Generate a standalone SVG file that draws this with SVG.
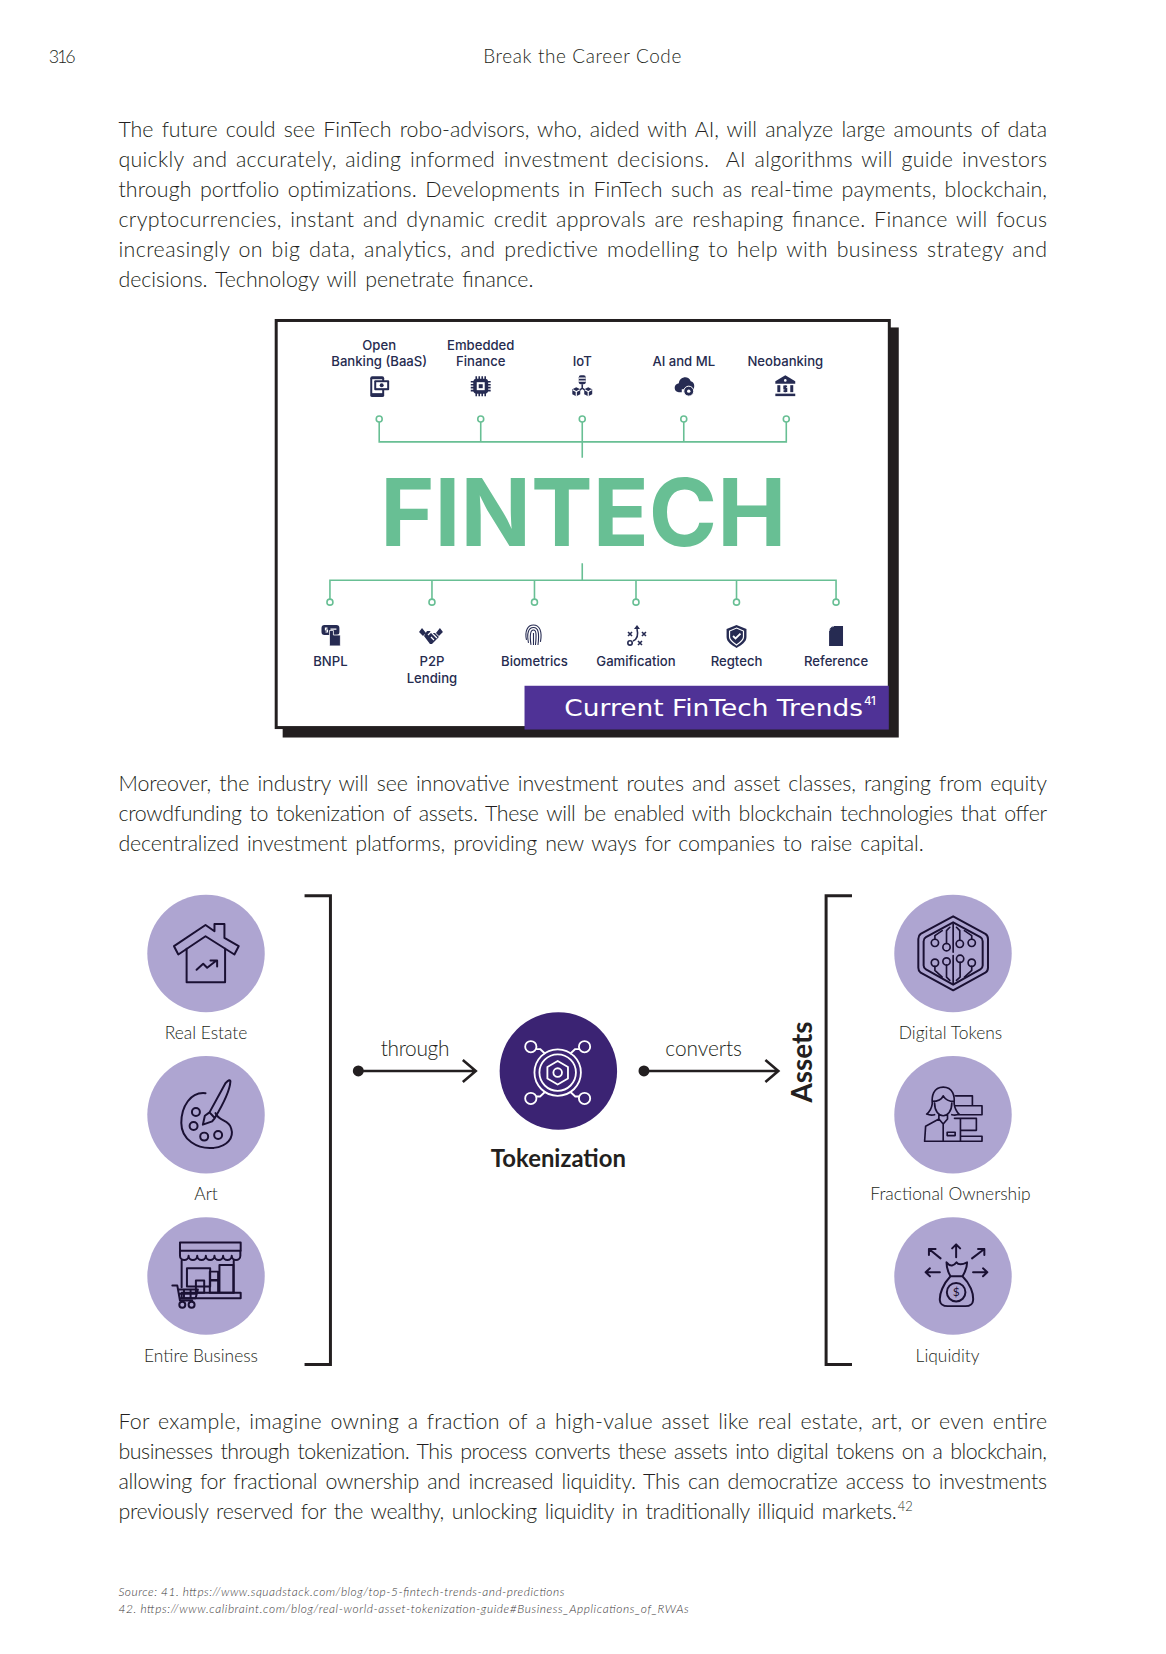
<svg xmlns="http://www.w3.org/2000/svg" width="1166" height="1654" viewBox="0 0 1166 1654">
<defs>
<style>
text{font-family:"Lato","Noto Sans",sans-serif;fill:#231f20}
.b{font-size:21.5px;font-weight:300;word-spacing:2.5px;fill:#231f20}
.l{font-size:17.5px;font-weight:300;text-anchor:middle}
.f{font-family:"Inter","Liberation Sans",sans-serif;font-size:13.2px;font-weight:500;fill:#262b4f;text-anchor:middle}
.fn{font-size:12px;font-style:italic;font-weight:300;fill:#3a3738}
.g{stroke:#68bf94;stroke-width:1.6;fill:none}
.gc{stroke:#68bf94;stroke-width:1.6;fill:#fff}
.ic{fill:none;stroke:#1a1033;stroke-width:6;stroke-linejoin:round;stroke-linecap:round}
.tok{fill:none;stroke:#fff;stroke-width:5.5;stroke-linejoin:round}
.d{fill:#262b52}
.ds{fill:none;stroke:#262b52;stroke-width:1.6}
.w{fill:none;stroke:#fff;stroke-width:1.2}
.c{fill:#aea5d1}
.a{fill:none;stroke:#231f20;stroke-width:2.6}
.br{fill:none;stroke:#231f20;stroke-width:3}
</style>
</defs>
<rect width="1166" height="1654" fill="#fff"/>
<g transform="scale(.9953)">
<g id="header">
<text x="49" y="63" font-size="18" font-weight="300" textLength="27">316</text>
<text x="585" y="63" font-size="19" font-weight="300" text-anchor="middle" textLength="199">Break the Career Code</text>
</g>
<g id="para1">
<text class="b" x="119" y="138" textLength="933">The future could see FinTech robo-advisors, who, aided with AI, will analyze large amounts of data</text>
<text class="b" x="119" y="168" textLength="933" xml:space="preserve">quickly and accurately, aiding informed investment decisions.  AI algorithms will guide investors</text>
<text class="b" x="119" y="198" textLength="933">through portfolio optimizations. Developments in FinTech such as real-time payments, blockchain,</text>
<text class="b" x="119" y="228" textLength="933">cryptocurrencies, instant and dynamic credit approvals are reshaping finance. Finance will focus</text>
<text class="b" x="119" y="258" textLength="933">increasingly on big data, analytics, and predictive modelling to help with business strategy and</text>
<text class="b" x="119" y="288" textLength="417">decisions. Technology will penetrate finance.</text>
</g>
<g id="fintech-figure">
<rect x="284" y="329" width="619" height="412" fill="#231f20"/>
<rect x="277.5" y="322" width="616" height="409" fill="#fff" stroke="#231f20" stroke-width="3"/>
<rect x="527" y="689" width="366" height="44" fill="#4f3296"/>
<text x="567" y="719" font-size="22.5" textLength="300" lengthAdjust="spacingAndGlyphs" style="font-family:'DejaVu Sans',sans-serif;fill:#fff">Current FinTech Trends</text>
<text x="868" y="708" style="font-family:'Inter',sans-serif;fill:#fff" font-size="11.5" font-weight="500">41</text>
<text x="382" y="548.500" style="font-family:'Inter','Liberation Sans',sans-serif;fill:#68bf94" font-size="94" font-weight="700" textLength="408" lengthAdjust="spacingAndGlyphs">FINTECH</text>
<g id="fintech-connectors">
<path class="g" d="M381 424V444H790V424M483 424V444M585 424V460M687 424V444"/>
<circle class="gc" cx="381" cy="421" r="3"/><circle class="gc" cx="483" cy="421" r="3"/><circle class="gc" cx="585" cy="421" r="3"/><circle class="gc" cx="687" cy="421" r="3"/><circle class="gc" cx="790" cy="421" r="3"/>
<path class="g" d="M585 566V583M331.500 602V583H840V602M434 583V602M537 583V602M639 583V602M740 583V602"/>
<circle class="gc" cx="331.500" cy="605" r="3"/><circle class="gc" cx="434" cy="605" r="3"/><circle class="gc" cx="537" cy="605" r="3"/><circle class="gc" cx="639" cy="605" r="3"/><circle class="gc" cx="740" cy="605" r="3"/><circle class="gc" cx="840" cy="605" r="3"/>
</g>
<g id="openbanking"><text class="f" x="381" y="352">Open</text><text class="f" x="381" y="368">Banking (BaaS)</text>
<g transform="translate(371,378)"><rect class="d" x="1" y="0" width="14" height="21" rx="2"/><rect x="3" y="3" width="10" height="14" fill="#fff"/><rect class="d" x="5" y="4" width="15" height="10" rx="1"/><rect x="7" y="6" width="11" height="6" fill="#fff"/><circle class="d" cx="12.500" cy="9" r="2"/></g></g>
<g id="embedded"><text class="f" x="483" y="352">Embedded</text><text class="f" x="483" y="368">Finance</text>
<g transform="translate(473,378)"><path class="ds" d="M5.500 0V20M8.500 0V20M11.500 0V20M14.500 0V20M0 5.500H20M0 8.500H20M0 11.500H20M0 14.500H20"/><rect class="d" x="2.500" y="2.500" width="15" height="15" rx="3.500"/><rect x="6" y="6" width="8" height="8" fill="#fff"/><rect class="d" x="8" y="8" width="4" height="4"/></g></g>
<g id="iot"><text class="f" x="585" y="368">IoT</text>
<g transform="translate(575,377)"><rect class="d" x="6.500" y="0" width="7" height="9" rx="2"/><path class="w" d="M6.500 3H13.500M6.500 6H13.500"/><path class="ds" d="M10 9V13M6 16L10 13L14 16"/><path class="d" d="M4 12L8 14V19L4 21L0 19V14Z"/><path class="d" d="M16 12L20 14V19L16 21L12 19V14Z"/><path class="w" d="M0.500 14.500L4 16.500L7.500 14.500M4 16.500V21M12.500 14.500L16 16.500L19.500 14.500M16 16.500V21"/></g></g>
<g id="aiml"><text class="f" x="687" y="368">AI and ML</text>
<g transform="translate(677,377)"><path class="d" d="M5 17C0 17 -1 9 5 8C6 1 15 0 17 6C21 7 21 11 20 14H8V17Z"/><circle class="d" cx="15" cy="16" r="5" stroke="#fff"/><circle cx="15" cy="16" r="1.700" fill="#fff"/></g></g>
<g id="neobanking"><text class="f" x="789" y="368">Neobanking</text>
<g transform="translate(779,377)"><path class="d" d="M10 0L20 6V8.500H0V6Z"/><circle cx="10" cy="5.200" r="1.300" fill="#fff"/><rect class="d" x="2" y="10" width="3" height="7"/><rect class="d" x="15" y="10" width="3" height="7"/><path class="ds" d="M11.800 11H8.800V13.500H11.200V16H8.200M10 10V17" stroke-width="1"/><rect class="d" x="0" y="18.500" width="20" height="2.500"/></g></g>
<g id="bnpl"><text class="f" x="332" y="669">BNPL</text>
<g transform="translate(323,628)"><rect class="d" x="0" y="0" width="18" height="10" rx="3"/><path class="w" d="M6 3H4V5H6V7H4M9 4H15"/><path class="d" d="M8 5.500H12V10H19V21H8Z" stroke="#fff" stroke-width=".8"/></g></g>
<g id="p2p"><text class="f" x="434" y="669">P2P</text><text class="f" x="434" y="686">Lending</text>
<g transform="translate(421,629)"><path class="d" d="M0 6L3 2L7 7L4 10ZM24 6L21 2L17 7L20 10ZM5 10L8 5H11L13 7H16L20 11L13 18H11Z"/><path class="w" d="M9 9L12 6L18 12M15 14L12 11"/></g></g>
<g id="biometrics"><text class="f" x="537" y="669">Biometrics</text>
<g transform="translate(527,628)" class="ds" style="stroke-width:1.100"><path d="M2 15C0 6 3 0 9 0S18 6 16 17M4 18C2 8 4 2.500 9 2.500S15 8 13.500 20M6.500 20C5 10 6 5 9 5S12 10 11 20M9 8V20"/></g></g>
<g id="gamification"><text class="f" x="639" y="669">Gamification</text>
<g transform="translate(630,628)" class="ds"><path d="M1 7L5 11M5 7L1 11M15 7L19 11M19 7L15 11M11 16L15 20M15 16L11 20"/><circle cx="3" cy="18" r="2.200"/><path d="M6 16C11 14 11 8 10 4"/><path class="d" stroke="none" d="M10 0L13 4H7Z"/></g></g>
<g id="regtech"><text class="f" x="740" y="669">Regtech</text>
<g transform="translate(730,628)"><path class="d" d="M10 0L20 4V12C20 17 15 20 10 23C5 20 0 17 0 12V4Z"/><path class="w" d="M10 3L17 6V12C17 15 13 18 10 20C7 18 3 15 3 12V6Z"/><path d="M6.500 11L9 13.500L14 8.500" fill="none" stroke="#fff" stroke-width="1.800"/></g></g>
<g id="reference"><text class="f" x="840" y="669">Reference</text>
<g transform="translate(833,629)"><path class="d" d="M5 0H14V20H0V5ZM0 3.500L3.500 0V3.500Z"/></g></g>
</g>
<g id="para2">
<text class="b" x="119" y="795" textLength="933">Moreover, the industry will see innovative investment routes and asset classes, ranging from equity</text>
<text class="b" x="119" y="825" textLength="933">crowdfunding to tokenization of assets. These will be enabled with blockchain technologies that offer</text>
<text class="b" x="119" y="855" textLength="809">decentralized investment platforms, providing new ways for companies to raise capital.</text>
</g>
<g id="connectors">
<path class="br" d="M306 900H332V1371H306"/>
<path class="br" d="M856 900H830V1371H856"/>
<circle cx="360" cy="1076" r="5.500" fill="#231f20"/><path class="a" d="M360 1076H478M465 1065L478 1076L465 1087"/>
<circle cx="647" cy="1076" r="5.500" fill="#231f20"/><path class="a" d="M647 1076H782M769 1065L782 1076L769 1087"/>
</g>
<text x="417" y="1061" font-size="21" font-weight="300" text-anchor="middle" textLength="69">through</text>
<text x="707" y="1061" font-size="21" font-weight="300" text-anchor="middle" textLength="77">converts</text>
<text transform="translate(816,1067) rotate(-90)" font-size="28" font-weight="700" text-anchor="middle">Assets</text>
<g id="real-estate"><circle class="c" cx="207" cy="958" r="59"/><g transform="translate(111.500,885) scale(.3333)" class="ic"><path d="M190 197L285 133L312 152V130H342V172L385 197L372 222L285 167L203 222Z"/><path d="M228 205V306H344V205M258 268L278 250L290 262L318 240M300 240H320V258"/></g><text class="l" x="207" y="1044">Real Estate</text></g>
<g id="art"><circle class="c" cx="207" cy="1120" r="59"/><g transform="translate(111.500,885) scale(.3333)" class="ic"><path d="M285 640C240 635 212 680 212 730C212 780 260 810 310 805C350 800 372 775 362 745C355 720 325 725 315 700"/><circle cx="256" cy="697" r="12"/><circle cx="249" cy="739" r="12"/><circle cx="281" cy="771" r="12"/><circle cx="323" cy="766" r="12"/><path d="M277 735L283 708L297 698L313 715L305 725ZM297 698L345 610Q360 595 360 605Q358 640 313 715"/></g><text class="l" x="207" y="1206">Art</text></g>
<g id="entire-business"><circle class="c" cx="207" cy="1282" r="59"/><g transform="translate(111.500,885) scale(.3333)" class="ic"><rect x="208" y="1090" width="183" height="25"/><path d="M208 1115V1130A13 13 0 0 0 234 1130A13 13 0 0 0 260 1130A13 13 0 0 0 286 1130A13 13 0 0 0 312 1130A13 13 0 0 0 338 1130A13 13 0 0 0 364 1130A13 13 0 0 0 390 1130V1115"/><path d="M213 1145V1225M370 1145V1242"/><rect x="213" y="1242" width="178" height="16"/><rect x="229" y="1168" width="70" height="55"/><rect x="327" y="1158" width="42" height="84"/><rect x="298" y="1178" width="25" height="25"/><rect x="256" y="1205" width="25" height="37"/><rect x="298" y="1205" width="25" height="37"/><path d="M185 1220H200L208 1265H245M203 1232H262L255 1258H208M220 1232V1258M240 1232V1258M205 1245H258"/><circle cx="215" cy="1278" r="9"/><circle cx="243" cy="1278" r="9"/></g><text class="l" x="202" y="1368">Entire Business</text></g>
<g id="tokenization"><circle cx="561" cy="1076" r="59" fill="#3b2373"/><g transform="translate(342,985) scale(.3333)" class="tok"><circle cx="655" cy="278" r="70"/><circle cx="655" cy="278" r="55"/><path d="M655 243L686 261V296L655 314L624 296V261Z"/><circle cx="655" cy="278" r="13"/><circle cx="574" cy="200" r="17"/><circle cx="736" cy="200" r="17"/><circle cx="574" cy="356" r="17"/><circle cx="736" cy="356" r="17"/><path d="M590 207H602L618 222M720 207H708L692 222M590 350H602L618 335M720 350H708L692 335"/></g><text x="561" y="1173" font-size="24" font-weight="700" text-anchor="middle">Tokenization</text></g>
<g id="digital-tokens"><circle class="c" cx="957.500" cy="958" r="59"/><g transform="translate(815,885) scale(.3333)" class="ic"><path d="M428 107L525 160Q533 165 533 175V262Q533 272 525 277L428 330L330 277Q323 272 323 262V175Q323 165 330 160Z"/><path d="M428 125L510 170Q517 174 517 182V255Q517 263 510 267L428 313L346 267Q339 263 339 255V182Q339 174 346 170Z"/><g style="stroke-width:5"><circle cx="373" cy="187" r="11"/><circle cx="408" cy="200" r="11"/><circle cx="448" cy="190" r="11"/><circle cx="484" cy="187" r="11"/><circle cx="373" cy="247" r="11"/><circle cx="408" cy="243" r="11"/><circle cx="449" cy="235" r="11"/><circle cx="484" cy="247" r="11"/><path d="M428 130V215M428 225V310M408 189V150L418 140M448 179V150L438 140M373 176V165L395 150M484 176V165L462 150M373 258V270L395 290M484 258V270L462 290M408 254V290L418 300M449 246V290L438 300"/></g></g><text class="l" x="955" y="1044">Digital Tokens</text></g>
<g id="fractional-ownership"><circle class="c" cx="957.500" cy="1120" r="59"/><g transform="translate(815,885) scale(.3333)" class="ic" style="stroke-width:5"><path d="M398 622C368 622 363 650 365 672Q362 692 348 703Q360 708 372 705M398 622C428 622 433 650 431 672Q434 692 446 703Q436 708 424 705M365 665C385 665 395 655 398 648C405 660 420 665 431 665M372 670C372 695 385 708 398 708C411 708 424 695 424 670M385 705V718L345 740L342 785H450V716M411 705V718M385 718L398 733L411 718M398 733V785M410 758H434V768H410ZM435 648H486V678H435M435 678H515V705H440M432 716H498V752H450M450 770H515V785H450"/></g><text class="l" x="955" y="1206">Fractional Ownership</text></g>
<g id="liquidity"><circle class="c" cx="957.500" cy="1282" r="59"/><g transform="translate(815,885) scale(.3333)" class="ic"><path d="M437 1135V1096M425 1108L437 1096L449 1108M390 1138L355 1110M355 1128V1110H375M485 1138L522 1110M503 1110H522V1128M388 1180H345M358 1168L345 1180L358 1192M488 1180H531M518 1168L531 1180L518 1192"/><path d="M408 1150C420 1165 430 1160 438 1150C445 1160 460 1155 470 1150C470 1170 462 1182 456 1192C480 1215 490 1245 488 1265C487 1278 475 1282 465 1282H412C400 1282 389 1278 388 1265C386 1245 398 1215 420 1192C414 1182 408 1170 408 1150ZM420 1192H456"/><circle cx="437" cy="1240" r="28"/><text x="437" y="1253" font-size="36" font-weight="400" text-anchor="middle" stroke="none" style="fill:#1a1033">$</text></g><text class="l" x="952" y="1368">Liquidity</text></g>
<g id="para3">
<text class="b" x="119" y="1436" textLength="933">For example, imagine owning a fraction of a high-value asset like real estate, art, or even entire</text>
<text class="b" x="119" y="1466" textLength="933">businesses through tokenization. This process converts these assets into digital tokens on a blockchain,</text>
<text class="b" x="119" y="1496" textLength="933">allowing for fractional ownership and increased liquidity. This can democratize access to investments</text>
<text class="b" x="119" y="1526" textLength="782">previously reserved for the wealthy, unlocking liquidity in traditionally illiquid markets.</text>
<text x="902" y="1518" font-size="13" font-weight="300">42</text>
</g>
<g id="footnotes">
<text class="fn" x="119" y="1604" textLength="448">Source: 41. https://www.squadstack.com/blog/top-5-fintech-trends-and-predictions</text>
<text class="fn" x="119" y="1621" textLength="573">42. https://www.calibraint.com/blog/real-world-asset-tokenization-guide#Business_Applications_of_RWAs</text>
</g>
</g>
</svg>
